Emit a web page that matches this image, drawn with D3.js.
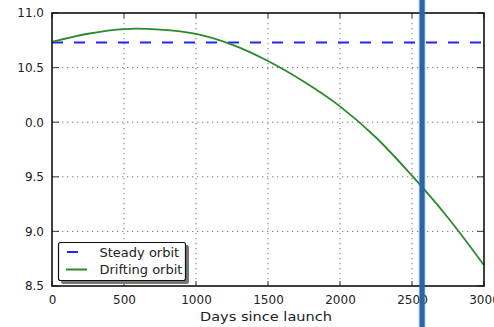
<!DOCTYPE html>
<html>
<head>
<meta charset="utf-8">
<script src="https://cdn.jsdelivr.net/npm/d3@7"></script>
<style>
  html, body { margin: 0; padding: 0; background: #fff; }
  svg { display: block; }
  text { font-family: "DejaVu Sans", sans-serif; fill: #222; }
</style>
</head>
<body>
<svg id="chart" width="494" height="327"></svg>
<script>
// Orbit altitude over the mission, sampled every 250 days
const days = [0, 250, 500, 750, 1000, 1250, 1500, 1750, 2000, 2250, 2500, 2750, 3000];
const drifting = [10.735, 10.81, 10.853, 10.848, 10.808, 10.71, 10.56, 10.37, 10.145, 9.86, 9.51, 9.125, 8.69];
const steadyLevel = 10.73;
const xTicks = [0, 500, 1000, 1500, 2000, 2500, 3000];
const yTicks = [8.5, 9.0, 9.5, 10.0, 10.5, 11.0];
const yTickLabels = ["8.5", "9.0", "9.5", "0.0", "10.5", "11.0"];
const markerDay = 2570;
const seriesNames = ["Steady orbit", "Drifting orbit"];

const svg = d3.select("#chart");
const plotLeft = 52, plotRight = 484, plotTop = 13, plotBottom = 286;

const x = d3.scaleLinear().domain([0, 3000]).range([plotLeft, plotRight]);
const y = d3.scaleLinear().domain([8.5, 11.0]).range([plotBottom, plotTop]);

// Dotted grid at interior ticks
const grid = svg.append("g");
grid.selectAll("line.vg").data(xTicks.filter(d => d > 0 && d < 3000)).join("line")
  .attr("x1", d => x(d)).attr("x2", d => x(d)).attr("y1", plotTop).attr("y2", plotBottom)
  .attr("stroke", "#777").attr("stroke-width", 1).attr("stroke-dasharray", "1.3,3.7");
grid.selectAll("line.hg").data(yTicks.filter(d => d > 8.5 && d < 11)).join("line")
  .attr("y1", d => y(d)).attr("y2", d => y(d)).attr("x1", plotLeft).attr("x2", plotRight)
  .attr("stroke", "#777").attr("stroke-width", 1).attr("stroke-dasharray", "1.3,3.7");

// Axes: labels outside, tick marks pointing inward on all four sides
const xAxis = d3.axisBottom(x).tickValues(xTicks).tickFormat(d3.format("d")).tickSize(0).tickPadding(9);
const yAxis = d3.axisLeft(y).tickValues(yTicks).tickFormat((d, i) => yTickLabels[i]).tickSize(0).tickPadding(8);
const gx = svg.append("g").attr("transform", `translate(0,${plotBottom})`).call(xAxis);
const gy = svg.append("g").attr("transform", `translate(${plotLeft},0)`).call(yAxis);
[gx, gy].forEach(g => {
  g.select(".domain").remove();
  g.selectAll("text").attr("font-size", 12).attr("fill", "#222")
    .style("font-family", "DejaVu Sans, sans-serif");
});

const ticks = svg.append("g").attr("stroke", "#555").attr("stroke-width", 1.2);
xTicks.forEach(d => {
  ticks.append("line").attr("x1", x(d)).attr("x2", x(d)).attr("y1", plotBottom).attr("y2", plotBottom - 5);
  ticks.append("line").attr("x1", x(d)).attr("x2", x(d)).attr("y1", plotTop).attr("y2", plotTop + 5);
});
yTicks.forEach(d => {
  ticks.append("line").attr("y1", y(d)).attr("y2", y(d)).attr("x1", plotLeft).attr("x2", plotLeft + 7);
  ticks.append("line").attr("y1", y(d)).attr("y2", y(d)).attr("x1", plotRight).attr("x2", plotRight - 7);
});

// Series
const steadyColor = "#2424ff", driftColor = "#2a8a2a";
svg.append("line")
  .attr("x1", x(0)).attr("x2", x(3000)).attr("y1", y(steadyLevel)).attr("y2", y(steadyLevel))
  .attr("stroke", steadyColor).attr("stroke-width", 2).attr("stroke-dasharray", "11,11");

const line = d3.line().x((d, i) => x(days[i])).y(d => y(d)).curve(d3.curveCatmullRom.alpha(0.5));
svg.append("path").datum(drifting).attr("d", line)
  .attr("fill", "none").attr("stroke", driftColor).attr("stroke-width", 1.8);

// Plot frame
svg.append("rect").attr("x", plotLeft).attr("y", plotTop)
  .attr("width", plotRight - plotLeft).attr("height", plotBottom - plotTop)
  .attr("fill", "none").attr("stroke", "#111").attr("stroke-width", 1.6);

// Axis title
svg.append("text").attr("x", (200 + 332) / 2).attr("y", 321).attr("text-anchor", "middle")
  .attr("font-size", 12).attr("textLength", 132).attr("lengthAdjust", "spacingAndGlyphs")
  .text("Days since launch");

// Legend with drop shadow
const lg = svg.append("g");
lg.append("rect").attr("x", 61).attr("y", 245).attr("width", 128).attr("height", 39)
  .attr("rx", 2).attr("fill", "#777");
lg.append("rect").attr("x", 58.5).attr("y", 242.5).attr("width", 127).attr("height", 38)
  .attr("rx", 2).attr("fill", "#fff").attr("stroke", "#111").attr("stroke-width", 1.2);
lg.append("line").attr("x1", 67).attr("x2", 78).attr("y1", 252).attr("y2", 252)
  .attr("stroke", steadyColor).attr("stroke-width", 2);
lg.append("line").attr("x1", 66).attr("x2", 87).attr("y1", 269.5).attr("y2", 269.5)
  .attr("stroke", driftColor).attr("stroke-width", 2);
lg.append("text").attr("x", 99.5).attr("y", 256.5).attr("font-size", 13).text(seriesNames[0]);
lg.append("text").attr("x", 99.5).attr("y", 273.5).attr("font-size", 13).text(seriesNames[1]);

// Vertical marker bar
svg.append("rect").attr("x", x(markerDay) - 4).attr("y", 0).attr("width", 8).attr("height", 327)
  .attr("fill", "#2b65a5").attr("opacity", 0.15);
svg.append("rect").attr("x", x(markerDay) - 2.6).attr("y", 0).attr("width", 5.2).attr("height", 327)
  .attr("fill", "#2b65a5");
</script>
</body>
</html>
